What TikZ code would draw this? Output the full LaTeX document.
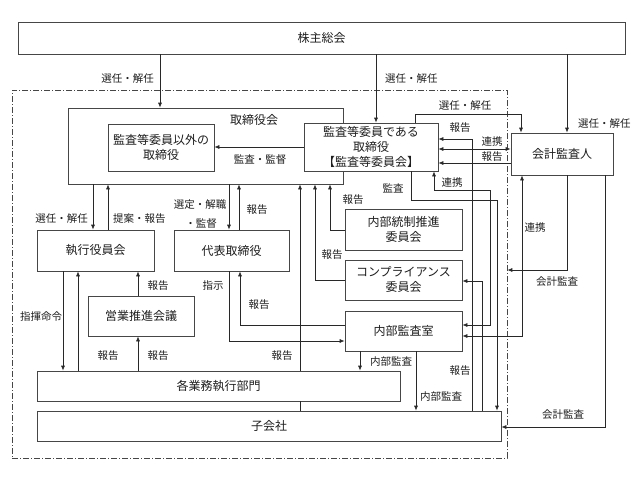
\documentclass[tikz,border=0pt]{standalone}
\usepackage{fontspec}
\setmainfont{Noto Sans CJK JP}
\usetikzlibrary{arrows.meta}

\begin{document}
\begin{tikzpicture}[x=1pt,y=-1pt,
  box/.style={draw=boxcolor,fill=white,line width=0.7pt,inner sep=0pt,text=textcolor,
    font=\fontsize{12}{15}\selectfont,align=center},
  lbl/.style={inner sep=1pt,text=textcolor,font=\fontsize{10.5}{12}\selectfont},
  conn/.style={line width=0.7pt,draw=linecolor},
  arr/.style={conn,-{Latex[length=5pt,width=4pt]}},
  darr/.style={conn,{Latex[length=5pt,width=4pt]}-{Latex[length=5pt,width=4pt]}}]
\definecolor{linecolor}{RGB}{40,40,40}
\definecolor{boxcolor}{RGB}{70,70,70}
\definecolor{textcolor}{RGB}{30,30,30}
\useasboundingbox (0,0) rectangle (640,480);
% company boundary
\node [draw=boxcolor,line width=0.6pt,dash pattern=on 6pt off 2pt on 1pt off 2pt,
  minimum width=495pt,minimum height=368pt,inner sep=0pt] (kaisha) at (259.5,274) {};
% boxes
\node [box,minimum width=607pt,minimum height=32pt] (kabunushi) at (321.5,38) {株主総会};
\node [box,minimum width=275pt,minimum height=76pt] (torishimari) at (205.5,146) {};
\node [inner sep=0pt,text=textcolor,font=\fontsize{12}{15}\selectfont] (torititle) at (254,120) {取締役会};
\node [box,minimum width=106pt,minimum height=47pt] (igai) at (161,147.5) {監査等委員以外の\\取締役};
\node [box,minimum width=134pt,minimum height=48pt] (kansa) at (371,147) {監査等委員である\\取締役\\【監査等委員会】};
\node [box,minimum width=102pt,minimum height=42pt] (kaikei) at (562,154) {会計監査人};
\node [box,minimum width=117pt,minimum height=41pt] (shikko) at (95.5,250.5) {執行役員会};
\node [box,minimum width=115pt,minimum height=41pt] (daihyo) at (231.5,250.5) {代表取締役};
\node [box,minimum width=106pt,minimum height=40pt] (eigyo) at (141,316) {営業推進会議};
\node [box,minimum width=117pt,minimum height=41pt] (naibu) at (403.5,229.5) {内部統制推進\\委員会};
\node [box,minimum width=117pt,minimum height=40pt] (comp) at (403.5,280) {コンプライアンス\\委員会};
\node [box,minimum width=117pt,minimum height=40pt] (naikan) at (403.5,331) {内部監査室};
\node [box,minimum width=363pt,minimum height=30pt] (gyomu) at (218.5,386) {各業務執行部門};
\node [box,minimum width=464pt,minimum height=30pt] (kogaisha) at (269,426) {子会社};
% shareholders
\draw [arr] (kabunushi.south -| 160,0) -- (torishimari.north -| 160,0);
\node [lbl,anchor=east] (l1) at (155,79) {選任・解任};
\draw [arr] (kabunushi.south -| 376,0) -- (kansa.north -| 376,0);
\node [lbl,anchor=west] (l2) at (384,79) {選任・解任};
\draw [arr] (kabunushi.south -| 567,0) -- (kaikei.north -| 567,0);
\node [lbl,anchor=west] (l3) at (577,124) {選任・解任};
% audit committee
\draw [arr] (kansa.north -| 415,0) |- (521,114) -- (kaikei.north -| 521,0);
\node [lbl] (l4) at (465,106) {選任・解任};
\draw [arr] (kansa.west |- 0,147) -- (igai.east |- 0,147);
\node [lbl] (l5) at (260,160) {監査・監督};
\draw [arr] (kogaisha.north -| 472,0) |- (kansa.east |- 0,139);
\node [lbl] (l14) at (460,128) {報告};
\node [lbl] (l15) at (460,371) {報告};
\draw [darr] (kansa.east |- 0,149) -- (kaikei.west |- 0,149);
\node [lbl] (l16) at (492,142) {連携};
\draw [arr] (kaikei.west |- 0,163) -- (kansa.east |- 0,163);
\node [lbl] (l17) at (492,157) {報告};
\draw [arr] (kansa.south -| 411,0) |- (497,200) -- (kogaisha.north -| 497,0);
\node [lbl] (l18) at (393,188) {監査};
\draw [darr] (kansa.south -| 434,0) |- (490,190) |- (naikan.east |- 0,325);
\node [lbl] (l19) at (452,183) {連携};
\draw [arr] (kogaisha.north -| 482,0) |- (comp.east |- 0,281);
% accounting auditor
\draw [darr] (kaikei.south -| 522,0) |- (naikan.east |- 0,336);
\node [lbl] (l20) at (535,228) {連携};
\draw [arr] (kaikei.south -| 567,0) |- (kaisha.east |- 0,270);
\node [lbl] (l21) at (557,282) {会計監査};
\draw [arr] (kaikei.south -| 605,0) |- (kogaisha.east |- 0,427);
\node [lbl] (l22) at (563,415) {会計監査};
% board
\draw [arr] (torishimari.south -| 93,0) -- (shikko.north -| 93,0);
\node [lbl,anchor=east] (l6) at (89,219) {選任・解任};
\draw [arr] (shikko.north -| 108,0) -- (torishimari.south -| 108,0);
\node [lbl,anchor=west] (l7) at (112,219) {提案・報告};
\draw [arr] (torishimari.south -| 229,0) -- (daihyo.north -| 229,0);
\node [lbl] (l8) at (200,205) {選定・解職};
\node [lbl] (l9) at (201,224) {・監督};
\draw [arr] (daihyo.north -| 239,0) -- (torishimari.south -| 239,0);
\node [lbl] (l10) at (257,210) {報告};
\draw [conn] (kogaisha.north -| 300,0) -- (gyomu.south -| 300,0);
\draw [arr] (gyomu.north -| 300,0) -- (torishimari.south -| 300,0);
\node [lbl] (l11) at (282,356) {報告};
\draw [arr] (comp.west |- 0,280) -| (torishimari.south -| 315,0);
\node [lbl] (l12) at (332,255) {報告};
\draw [arr] (naibu.west |- 0,230) -| (torishimari.south -| 330,0);
\node [lbl] (l13) at (353,200) {報告};
% internal audit
\draw [arr] (naikan.south -| 360,0) -- (gyomu.north -| 360,0);
\node [lbl] (l23) at (391,362) {内部監査};
\draw [arr] (naikan.south -| 416,0) -- (kogaisha.north -| 416,0);
\node [lbl] (l24) at (441,397) {内部監査};
\draw [arr] (naikan.west |- 0,325) -| (daihyo.south -| 240,0);
\node [lbl] (l25) at (259,305) {報告};
\draw [arr] (daihyo.south -| 229,0) |- (naikan.west |- 0,341);
\node [lbl] (l26) at (213,286) {指示};
% executive side
\draw [arr] (shikko.south -| 63,0) -- (gyomu.north -| 63,0);
\node [lbl] (l27) at (41,317) {指揮命令};
\draw [arr] (gyomu.north -| 78,0) -- (shikko.south -| 78,0);
\node [lbl] (l28) at (108,356) {報告};
\draw [arr] (eigyo.north -| 138,0) -- (shikko.south -| 138,0);
\node [lbl] (l29) at (158,286) {報告};
\draw [arr] (gyomu.north -| 138,0) -- (eigyo.south -| 138,0);
\node [lbl] (l30) at (158,356) {報告};
\end{tikzpicture}
\end{document}
